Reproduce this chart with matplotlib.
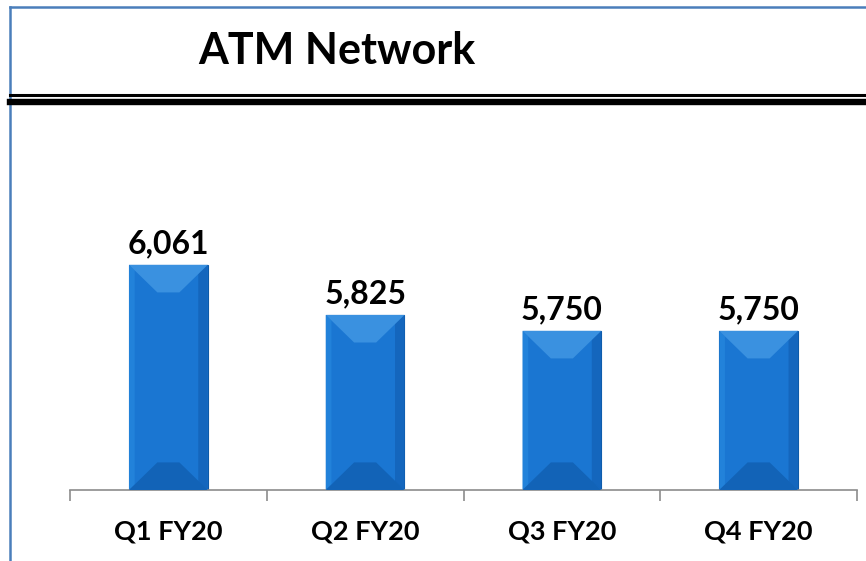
import matplotlib.pyplot as plt
from matplotlib.patches import Polygon
from matplotlib.lines import Line2D

quarters = ['Q1 FY20', 'Q2 FY20', 'Q3 FY20', 'Q4 FY20']
atms = [6061, 5825, 5750, 5750]
value_labels = ['6,061', '5,825', '5,750', '5,750']

W, H = 866, 561
fig = plt.figure(figsize=(W / 100, H / 100), dpi=100)
fig.patch.set_facecolor('white')

# frame around slide (left + top edge visible)
blue_edge = '#4a7ebb'
fig.add_artist(Line2D([10 / W, 10 / W], [0, 1 - 7 / H], color=blue_edge, lw=1.8, transform=fig.transFigure))
fig.add_artist(Line2D([10 / W, 1], [1 - 7 / H, 1 - 7 / H], color=blue_edge, lw=1.8, transform=fig.transFigure))

# double rule under the title
fig.add_artist(Line2D([10 / W, 1], [1 - 95.5 / H] * 2, color='black', lw=2.2, transform=fig.transFigure))
fig.add_artist(Line2D([10 / W, 1], [1 - 102 / H] * 2, color='black', lw=4.6, transform=fig.transFigure))

fig.text(337 / W, 1 - 51 / H, 'ATM Network', ha='center', va='center',
         fontsize=31, fontweight='bold', family='Lato')

ax = fig.add_axes([70 / W, 1 - 490 / H, (857 - 70) / W, (490 - 108) / H])
x = list(range(len(quarters)))
bars = ax.bar(x, atms, width=0.4, bottom=0, color='#1a76d2', edgecolor='#0d5aa8', linewidth=0.8, zorder=2)
ax.set_ylim(5000, 6800)
ax.set_xlim(-0.5, len(quarters) - 0.5)

# bevel shading on each bar
for i, b in enumerate(bars):
    x0, x1 = b.get_x(), b.get_x() + b.get_width()
    y0, y1 = 5000, b.get_height()
    dx = b.get_width() * 0.36
    dy = 130
    side = b.get_width() * 0.12
    right = Polygon([(x1, y1), (x1, y0), (x1 - side, y0 + dy * 0.3), (x1 - side, y1 - dy * 0.3)],
                    closed=True, facecolor='#1466bd', edgecolor='none', zorder=2.5)
    left = Polygon([(x0, y1), (x0, y0), (x0 + side * 0.6, y0 + dy * 0.2), (x0 + side * 0.6, y1 - dy * 0.2)],
                   closed=True, facecolor='#2282da', edgecolor='none', zorder=2.5)
    top = Polygon([(x0, y1), (x1, y1), (x1 - dx, y1 - dy), (x0 + dx, y1 - dy)], closed=True,
                  facecolor='#3a91e0', edgecolor='none', zorder=3)
    bot = Polygon([(x0, y0), (x1, y0), (x1 - dx, y0 + dy), (x0 + dx, y0 + dy)], closed=True,
                  facecolor='#1263b7', edgecolor='none', zorder=3)
    for p in (right, left, top, bot):
        ax.add_patch(p)
    ax.text(b.get_x() + b.get_width() / 2, y1 + 33, value_labels[i],
            ha='center', va='bottom', fontsize=23, fontweight='bold', family='Lato')

for s in ['top', 'left', 'right']:
    ax.spines[s].set_visible(False)
ax.spines['bottom'].set_color('#8c8c8c')
ax.spines['bottom'].set_linewidth(1.2)
ax.set_yticks([])
ax.set_xticks([i - 0.5 for i in range(len(quarters) + 1)])
ax.set_xticklabels([])
ax.tick_params(axis='x', which='major', length=8, width=1.2, color='#8c8c8c')
ax.set_xticks(x, minor=True)
ax.set_xticklabels(quarters, minor=True, fontsize=19.5, fontweight='bold', family='Lato')
ax.tick_params(axis='x', which='minor', length=0, pad=21)

fig.savefig('out.png', dpi=100)
